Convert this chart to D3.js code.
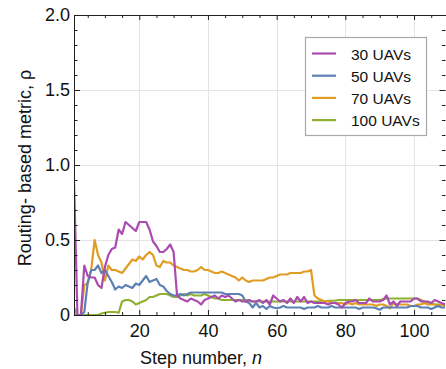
<!DOCTYPE html>
<html>
<head>
<meta charset="utf-8">
<script src="https://cdn.jsdelivr.net/npm/d3@7"></script>
<style>
html,body{margin:0;padding:0;background:#fff;}
svg{display:block;font-family:"Liberation Sans",Arial,sans-serif;}
</style>
</head>
<body>
<svg id="chart" width="446" height="369"></svg>
<script>
// ---- data ----
const seriesNames = ["30 UAVs", "50 UAVs", "70 UAVs", "100 UAVs"];
const seriesColors = ["#a94bb0", "#5e81b5", "#e19c24", "#8fb032"];
const steps = d3.range(1, 110);
const rho30 = [
 0.90,0.00,0.00,0.33,0.26,0.25,0.25,0.20,0.18,0.32,
 0.40,0.44,0.45,0.57,0.54,0.62,0.60,0.58,0.56,0.62,
 0.62,0.62,0.57,0.49,0.46,0.42,0.42,0.44,0.47,0.42,
 0.13,0.11,0.10,0.09,0.11,0.10,0.09,0.07,0.10,0.11,
 0.12,0.13,0.11,0.13,0.12,0.13,0.11,0.09,0.10,0.09,
 0.09,0.10,0.09,0.09,0.10,0.08,0.10,0.07,0.13,0.11,
 0.09,0.10,0.08,0.11,0.08,0.12,0.09,0.12,0.08,0.09,
 0.08,0.08,0.08,0.08,0.07,0.08,0.08,0.07,0.05,0.08,
 0.09,0.09,0.10,0.08,0.08,0.08,0.11,0.09,0.09,0.09,
 0.10,0.13,0.07,0.09,0.06,0.09,0.09,0.09,0.09,0.11,
 0.11,0.09,0.09,0.09,0.08,0.10,0.09,0.08,0.07];
const rho50 = [
 0.00,0.00,0.00,0.02,0.22,0.30,0.30,0.33,0.28,0.30,
 0.26,0.22,0.17,0.19,0.18,0.20,0.19,0.18,0.21,0.20,
 0.23,0.26,0.22,0.23,0.24,0.20,0.19,0.16,0.14,0.13,
 0.13,0.14,0.13,0.14,0.15,0.15,0.15,0.15,0.15,0.15,
 0.15,0.15,0.15,0.15,0.14,0.14,0.14,0.14,0.14,0.13,
 0.09,0.08,0.05,0.08,0.05,0.06,0.04,0.06,0.05,0.045,
 0.05,0.06,0.05,0.05,0.05,0.05,0.05,0.04,0.05,0.05,
 0.05,0.06,0.05,0.05,0.05,0.06,0.05,0.05,0.05,0.05,
 0.05,0.05,0.05,0.04,0.05,0.05,0.05,0.05,0.045,0.035,
 0.05,0.05,0.05,0.05,0.05,0.05,0.05,0.05,0.06,0.06,
 0.06,0.05,0.05,0.05,0.04,0.05,0.06,0.05,0.05];
const rho70 = [
 0.00,0.00,0.00,0.20,0.21,0.30,0.50,0.40,0.35,0.23,
 0.33,0.30,0.30,0.29,0.28,0.31,0.34,0.37,0.36,0.39,
 0.37,0.40,0.42,0.40,0.33,0.32,0.36,0.35,0.35,0.33,
 0.32,0.31,0.30,0.30,0.29,0.29,0.30,0.32,0.30,0.30,
 0.29,0.28,0.28,0.29,0.28,0.27,0.26,0.25,0.23,0.25,
 0.23,0.22,0.23,0.23,0.23,0.23,0.24,0.25,0.25,0.26,
 0.27,0.27,0.27,0.28,0.28,0.28,0.28,0.29,0.29,0.30,
 0.13,0.11,0.10,0.09,0.09,0.08,0.08,0.08,0.08,0.07,
 0.08,0.07,0.08,0.07,0.07,0.07,0.07,0.07,0.06,0.07,
 0.07,0.06,0.045,0.08,0.07,0.07,0.07,0.07,0.06,0.06,
 0.07,0.07,0.08,0.07,0.07,0.07,0.06,0.07,0.06];
const rho100 = [
 0.05,0.00,0.00,0.00,0.00,0.00,0.00,0.00,0.01,0.015,
 0.02,0.02,0.02,0.015,0.09,0.10,0.10,0.09,0.07,0.08,
 0.09,0.10,0.12,0.12,0.13,0.14,0.14,0.14,0.13,0.12,
 0.12,0.13,0.14,0.13,0.14,0.13,0.13,0.13,0.14,0.13,
 0.12,0.11,0.11,0.10,0.10,0.10,0.10,0.10,0.10,0.10,
 0.10,0.095,0.09,0.09,0.09,0.09,0.09,0.09,0.09,0.09,
 0.09,0.09,0.09,0.09,0.09,0.09,0.09,0.09,0.09,0.09,
 0.09,0.09,0.09,0.09,0.095,0.095,0.095,0.10,0.10,0.10,
 0.10,0.10,0.10,0.10,0.10,0.10,0.10,0.10,0.10,0.10,
 0.105,0.11,0.11,0.11,0.11,0.11,0.11,0.11,0.11,0.11,
 0.11,0.10,0.09,0.08,0.08,0.07,0.07,0.07,0.06];
const xMajorTicks = [20, 40, 60, 80, 100];
const yMajorTicks = [0, 0.5, 1.0, 1.5, 2.0];
const yTickLabels = ["0", "0.5", "1.0", "1.5", "2.0"];
const xTitle = "Step number, ";
const xTitleVar = "n";
const yTitle = "Routing- based metric, ρ";

// ---- layout ----
const svg = d3.select("#chart");
const L = 74, R = 446, T = 15, B = 315;
const x = d3.scaleLinear().domain([1, 109.3]).range([L, R]);
const y = d3.scaleLinear().domain([0, 2]).range([B, T]);
const xMinor = d3.range(5, 110, 5).filter(v => !xMajorTicks.includes(v));
const yMinor = d3.range(0, 2.001, 0.1).map(v => +v.toFixed(1)).filter(v => !yMajorTicks.includes(v));

svg.append("defs").append("clipPath").attr("id", "clip")
  .append("rect").attr("x", L).attr("y", T).attr("width", R - L).attr("height", B - T);

// grid
const grid = svg.append("g").attr("stroke", "#e4e4e4").attr("stroke-width", 1);
grid.selectAll("line.gx").data(xMajorTicks).join("line")
  .attr("x1", d => Math.round(x(d)) + 0.5).attr("x2", d => Math.round(x(d)) + 0.5)
  .attr("y1", T).attr("y2", B);
grid.selectAll("line.gy").data([0.5, 1.0, 1.5]).join("line")
  .attr("y1", d => Math.round(y(d)) + 0.5).attr("y2", d => Math.round(y(d)) + 0.5)
  .attr("x1", L).attr("x2", R);

// lines
const all = [rho30, rho50, rho70, rho100];
const line = d3.line().x((d, i) => x(steps[i])).y(d => y(d));
const lg = svg.append("g").attr("clip-path", "url(#clip)");
[3, 2, 1, 0].forEach(k => {
  lg.append("path").datum(all[k]).attr("d", line)
    .attr("fill", "none").attr("stroke", seriesColors[k])
    .attr("stroke-width", 2.2).attr("stroke-linejoin", "round");
});

// axes
function styleAxis(g) {
  g.select(".domain").remove();
  g.selectAll(".tick line").attr("stroke", "#222");
  g.selectAll(".tick text").attr("fill", "#111").attr("font-size", 18)
    .attr("font-family", "Liberation Sans, Arial, sans-serif");
}
svg.append("g").attr("transform", `translate(0,${B})`)
  .call(d3.axisBottom(x).tickValues(xMajorTicks).tickSize(-5).tickPadding(9).tickFormat(d3.format("d")))
  .call(styleAxis);
svg.append("g").attr("transform", `translate(0,${B})`)
  .call(d3.axisBottom(x).tickValues(xMinor).tickSize(-3).tickFormat(""))
  .call(styleAxis);
svg.append("g").attr("transform", `translate(${L},0)`)
  .call(d3.axisLeft(y).tickValues(yMajorTicks).tickSize(-6).tickPadding(4).tickFormat((d, i) => yTickLabels[i]))
  .call(styleAxis);
svg.append("g").attr("transform", `translate(${L},0)`)
  .call(d3.axisLeft(y).tickValues(yMinor).tickSize(-3.5).tickFormat(""))
  .call(styleAxis);
// top and right frame ticks
svg.append("g").attr("transform", `translate(0,${T})`)
  .call(d3.axisTop(x).tickValues(xMajorTicks).tickSize(-5).tickFormat(""))
  .call(styleAxis);
svg.append("g").attr("transform", `translate(0,${T})`)
  .call(d3.axisTop(x).tickValues(xMinor).tickSize(-3).tickFormat(""))
  .call(styleAxis);
svg.append("g").attr("transform", `translate(${R - 0.5},0)`)
  .call(d3.axisRight(y).tickValues(yMajorTicks).tickSize(-6).tickFormat(""))
  .call(styleAxis);
svg.append("g").attr("transform", `translate(${R - 0.5},0)`)
  .call(d3.axisRight(y).tickValues(yMinor).tickSize(-3.5).tickFormat(""))
  .call(styleAxis);

// frame
svg.append("path")
  .attr("d", `M${L + 0.5},${T + 0.5}H${R}M${L + 0.5},${T}V${B + 0.5}H${R}`)
  .attr("fill", "none").attr("stroke", "#222").attr("stroke-width", 1);

// titles
const xt = svg.append("text").attr("x", 201).attr("y", 364).attr("text-anchor", "middle")
  .attr("font-size", 18).attr("fill", "#111");
xt.append("tspan").text(xTitle);
xt.append("tspan").attr("font-style", "italic").text(xTitleVar);
svg.append("text").attr("transform", "translate(31,168) rotate(-90)")
  .attr("text-anchor", "middle").attr("font-size", 18).attr("fill", "#111").text(yTitle);

// legend
const leg = svg.append("g");
leg.append("rect").attr("x", 305.5).attr("y", 37.5).attr("width", 121).attr("height", 98)
  .attr("fill", "#fff").attr("stroke", "#a8a8a8").attr("stroke-width", 1.2);
seriesNames.forEach((name, i) => {
  const cy = 53.5 + i * 22.2;
  leg.append("line").attr("x1", 312).attr("x2", 336).attr("y1", cy).attr("y2", cy)
    .attr("stroke", seriesColors[i]).attr("stroke-width", 2.2);
  leg.append("text").attr("x", 351).attr("y", cy + 6).attr("font-size", 15.5)
    .attr("fill", "#111").text(name);
});
</script>
</body>
</html>
